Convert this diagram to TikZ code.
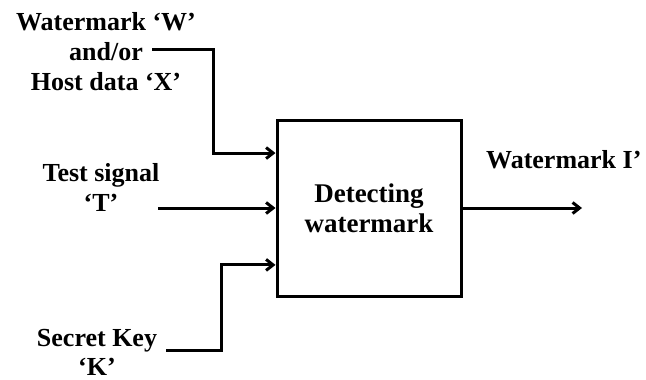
\documentclass[tikz,border=0pt]{standalone}
\usepackage{fontspec}
\setmainfont{Liberation Serif}
\usetikzlibrary{arrows.meta,positioning,calc}

\begin{document}
\begin{tikzpicture}[x=1pt,y=-1pt,>={Straight Barb[length=7pt,width=11pt]},
    lbl/.style={align=center,font=\fontsize{26}{30}\selectfont\bfseries,inner sep=0pt},
    blockbox/.style={draw,line width=3pt,minimum width=184pt,minimum height=176pt,
      align=center,font=\fontsize{27}{30}\selectfont\bfseries},
    wire/.style={line width=3pt}]
    \useasboundingbox (0,0) rectangle (646,380);
    % detector block
    \node[blockbox] (det) at (369,208) {Detecting\\watermark};
    % input labels
    \node[lbl] (wmx) at (106,52) {Watermark `W'\\and/or\\Host data `X'};
    \node[lbl] (tsig) at (101,187) {Test signal\\`T'};
    \node[lbl,font=\fontsize{26}{29}\selectfont\bfseries] (skey) at (97,352) {Secret Key\\`K'};
    \node[lbl,anchor=west] (wout) at (486,160) {Watermark I'};
    % wire ends
    \coordinate (wmxend) at (152,49);
    \coordinate (tsigend) at (158,208);
    \coordinate (skeyend) at (166,350);
    \coordinate (in1) at ($(det.north west)!0.193!(det.south west)$);
    \coordinate (in3) at ($(det.north west)!0.818!(det.south west)$);
    \coordinate (outend) at (582,208);
    % connectors
    \draw[wire,->] (wmxend) -| (213,100) |- (in1);
    \draw[wire,->] (tsigend) -- (tsigend -| det.west);
    \draw[wire,->] (skeyend) -| (221,300) |- (in3);
    \draw[wire,->] (det.east |- outend) -- (outend);
\end{tikzpicture}
\end{document}
